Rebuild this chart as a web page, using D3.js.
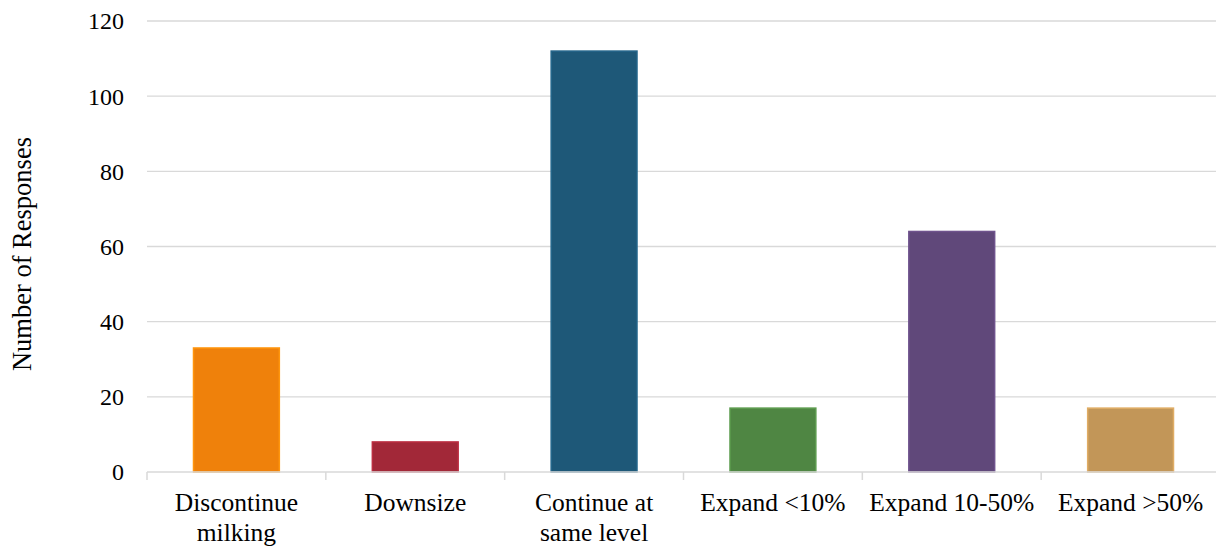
<!DOCTYPE html>
<html>
<head>
<meta charset="utf-8">
<script src="https://cdn.jsdelivr.net/npm/d3@7"></script>
<style>
  html, body { margin: 0; padding: 0; background: #fff; }
  svg text { font-family: "Liberation Serif", "Times New Roman", serif; fill: #000; }
</style>
</head>
<body>
<svg id="chart" width="1216" height="546"></svg>
<script>
// Planned herd direction: number of responses per option
const categories = ["Discontinue milking", "Downsize", "Continue at same level", "Expand <10%", "Expand 10-50%", "Expand >50%"];
const responses = [33, 8, 112, 17, 64, 17];
const barColors = ["#EF810B", "#A22838", "#1E5878", "#4F8643", "#60487A", "#C29658"];
const yTicks = [0, 20, 40, 60, 80, 100, 120];
const yTitle = "Number of Responses";

const svg = d3.select("#chart");
const margin = { top: 21, right: 0, bottom: 74, left: 147 };
const width = 1220 - margin.left;
const height = 546 - margin.top - margin.bottom;

const g = svg.append("g").attr("transform", `translate(${margin.left},${margin.top})`);

const x = d3.scaleBand().domain(categories).range([0, width]).paddingInner(0.52).paddingOuter(0.26);
const y = d3.scaleLinear().domain([0, 120]).range([height, 0]);

// Horizontal gridlines
g.append("g")
  .selectAll("line")
  .data(yTicks.filter(t => t > 0))
  .join("line")
  .attr("x1", 0).attr("x2", width)
  .attr("y1", d => y(d)).attr("y2", d => y(d))
  .attr("stroke", "#d9d9d9").attr("stroke-width", 1.3);

// Y tick labels
const yAxis = g.append("g")
  .call(d3.axisLeft(y).tickValues(yTicks).tickSize(0).tickPadding(23));
yAxis.select(".domain").remove();
yAxis.selectAll("text").style("font-size", "24px").attr("dy", "0.33em");

// Bars
g.append("g")
  .selectAll("rect")
  .data(categories)
  .join("rect")
  .attr("x", d => x(d))
  .attr("width", x.bandwidth())
  .attr("y", (d, i) => y(responses[i]))
  .attr("height", (d, i) => y(0) - y(responses[i]))
  .attr("fill", (d, i) => barColors[i])
  .attr("stroke", (d, i) => d3.color(barColors[i]).brighter(0.4))
  .attr("stroke-width", 1.5);

// Category axis: line along zero with separator ticks between bands
const xAxisG = g.append("g").attr("transform", `translate(0,${height})`);
xAxisG.append("line")
  .attr("x1", 0).attr("x2", width)
  .attr("stroke", "#d9d9d9").attr("stroke-width", 1.5);
const bounds = d3.range(categories.length + 1).map(i => i * width / categories.length);
xAxisG.selectAll("line.sep")
  .data(bounds)
  .join("line")
  .attr("class", "sep")
  .attr("x1", d => d).attr("x2", d => d)
  .attr("y1", 0).attr("y2", 8)
  .attr("stroke", "#d9d9d9").attr("stroke-width", 1.5);

// Wrapped category labels
function wrapLines(text, maxWidth, fontSize) {
  const probe = svg.append("text").style("font-size", fontSize + "px");
  const words = text.split(" ");
  const lines = [];
  let cur = [];
  words.forEach(w => {
    const trial = cur.concat(w).join(" ");
    probe.text(trial);
    if (probe.node().getComputedTextLength() > maxWidth && cur.length) {
      lines.push(cur.join(" "));
      cur = [w];
    } else {
      cur.push(w);
    }
  });
  if (cur.length) lines.push(cur.join(" "));
  probe.remove();
  return lines;
}

const catFont = 25.5;
const labels = xAxisG.selectAll("text.cat")
  .data(categories)
  .join("text")
  .attr("class", "cat")
  .attr("text-anchor", "middle")
  .style("font-size", catFont + "px")
  .attr("transform", d => `translate(${x(d) + x.bandwidth() / 2},39)`);
labels.each(function(d) {
  const lines = wrapLines(d, 170, catFont);
  d3.select(this).selectAll("tspan")
    .data(lines)
    .join("tspan")
    .attr("x", 0)
    .attr("y", (l, i) => i * 30)
    .text(l => l);
});

// Y axis title
svg.append("text")
  .attr("transform", `translate(31,${margin.top + y(58)}) rotate(-90)`)
  .attr("text-anchor", "middle")
  .style("font-size", "26.5px")
  .text(yTitle);
</script>
</body>
</html>
